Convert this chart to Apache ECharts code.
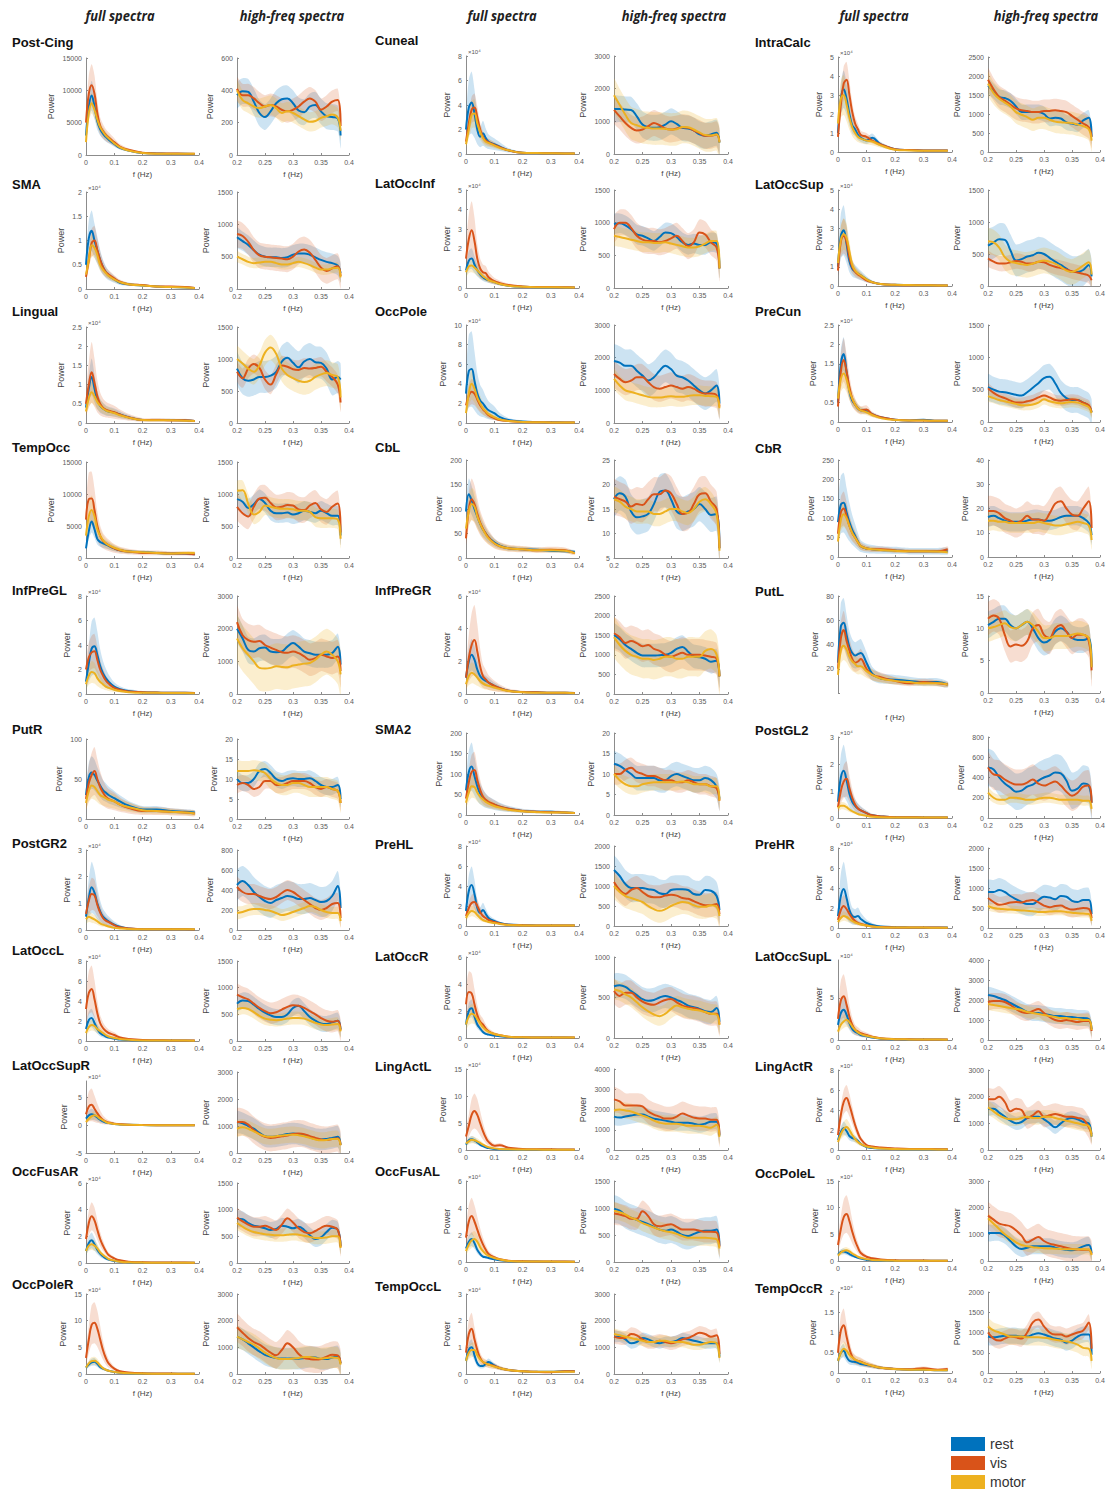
<!DOCTYPE html>
<html><head><meta charset="utf-8">
<script src="https://cdn.jsdelivr.net/npm/echarts@6/dist/echarts.min.js"></script>
<style>html,body{margin:0;padding:0;background:#fff}#c{width:1111px;height:1493px}</style>
</head><body><div id="c"></div>
<script>
// ---------------- DATA ----------------
const regions = ['Post-Cing','SMA','Lingual','TempOcc','InfPreGL','PutR','PostGR2','LatOccL','LatOccSupR','OccFusAR','OccPoleR',
 'Cuneal','LatOccInf','OccPole','CbL','InfPreGR','SMA2','PreHL','LatOccR','LingActL','OccFusAL','TempOccL',
 'IntraCalc','LatOccSup','PreCun','CbR','PutL','PostGL2','PreHR','LatOccSupL','LingActR','OccPoleL','TempOccR'];
const conditions = ['rest','vis','motor'];
const fullFreq = [0,0.01,0.02,0.03,0.04,0.05,0.06,0.07,0.08,0.1,0.12,0.15,0.2,0.25,0.3,0.35,0.385];
const hfFreq = [0.2,0.21,0.22,0.23,0.24,0.25,0.26,0.27,0.28,0.29,0.3,0.31,0.32,0.33,0.34,0.35,0.36,0.37,0.38,0.385];
// full-spectra y axis: [min, max, interval, exponent of the x10^n multiplier]
const fullAxis = [[0,15000,5000,0],[0,2,0.5,4],[0,2.5,0.5,4],[0,15000,5000,0],[0,8,2,4],[0,100,50,0],[0,3,1,4],[0,8,2,4],[-5,8,5,4],[0,6,2,4],[0,15,5,4],
 [0,8,2,4],[0,5,1,4],[0,10,2,4],[0,200,50,0],[0,6,2,4],[0,200,50,0],[0,8,2,4],[0,6,2,4],[0,15,5,4],[0,6,2,4],[0,3,1,4],
 [0,5,1,4],[0,5,1,4],[0,2.5,0.5,4],[0,250,50,0],[0,80,20,0],[0,3,1,4],[0,8,2,4],[0,9.5,5,4],[0,8,2,4],[0,15,5,4],[0,2,0.5,4]];
// high-freq y axis: [min, max, interval]
const hfAxis = [[0,600,200],[0,1500,500],[0,1500,500],[0,1500,500],[0,3000,1000],[0,20,5],[0,800,200],[0,1500,500],[0,3000,1000],[0,1500,500],[0,3000,1000],
 [0,3000,1000],[0,1500,500],[0,3000,1000],[5,25,5],[0,2500,500],[0,20,5],[0,2000,500],[0,1000,500],[0,4000,1000],[0,1500,500],[0,3000,1000],
 [0,2500,500],[0,1500,500],[0,1500,500],[0,40,10],[0,15,5],[0,800,200],[0,2000,500],[0,4000,1000],[0,3000,1000],[0,3000,1000],[0,2000,500]];

const fullRest = [
[3000,7500,9200,7500,5200,4000,3300,2800,2400,1700,1100,700,300,250,200,200,150],
[0.5,1.05,1.2,1.0,0.8,0.6,0.45,0.35,0.28,0.2,0.13,0.1,0.07,0.05,0.04,0.03,0.02],
[0.4,0.9,1.2,0.9,0.6,0.45,0.38,0.33,0.3,0.27,0.22,0.15,0.08,0.08,0.08,0.07,0.05],
[1500,4200,5700,4500,3000,2500,2300,2100,1900,1500,1200,1000,900,800,700,700,600],
[1.0,2.5,3.7,3.9,3.2,2.3,1.7,1.3,1.0,0.6,0.4,0.25,0.15,0.12,0.1,0.1,0.08],
[30,52,58,55,48,42,36,33,30,26,22,17,12,12,10,9,8],
[0.5,1.2,1.6,1.4,1.0,0.7,0.5,0.4,0.32,0.2,0.12,0.06,0.03,0.03,0.03,0.03,0.02],
[1.2,2.1,2.3,1.8,1.2,0.8,0.6,0.45,0.35,0.25,0.15,0.1,0.05,0.05,0.04,0.04,0.03],
[1.2,1.8,2.0,1.8,1.4,1.0,0.7,0.5,0.4,0.25,0.15,0.08,0.04,0.03,0.02,0.02,0.02],
[0.9,1.5,1.7,1.4,1.0,0.7,0.5,0.35,0.25,0.15,0.1,0.05,0.03,0.02,0.02,0.02,0.02],
[1.2,1.8,2.2,2.3,1.9,1.3,1.0,0.8,0.6,0.4,0.25,0.15,0.08,0.05,0.05,0.04,0.04],
[2.0,3.8,4.2,3.3,2.0,1.4,1.7,1.3,1.0,0.8,0.6,0.3,0.1,0.08,0.06,0.05,0.05],
[0.9,1.4,1.5,1.2,0.9,0.7,0.55,0.45,0.4,0.3,0.2,0.12,0.06,0.04,0.04,0.03,0.03],
[3.0,5.3,5.5,4.3,3.0,2.3,2.0,1.6,1.3,1.0,0.6,0.3,0.15,0.1,0.08,0.06,0.05],
[95,130,118,100,85,70,58,50,42,32,25,20,18,17,15,14,13],
[1.0,2.0,2.4,2.1,1.5,1.1,0.9,0.8,0.7,0.5,0.35,0.2,0.12,0.1,0.08,0.08,0.06],
[60,105,118,95,70,52,42,35,30,25,20,15,10,8,8,6,5],
[1.5,3.5,4.1,3.2,1.8,1.3,1.6,1.2,0.8,0.5,0.3,0.15,0.08,0.06,0.05,0.05,0.04],
[1.0,2.0,2.2,1.6,1.0,0.7,0.45,0.3,0.25,0.18,0.12,0.07,0.04,0.03,0.03,0.03,0.02],
[1.0,1.8,2.0,1.8,1.4,1.0,0.7,0.5,0.35,0.2,0.15,0.1,0.08,0.06,0.05,0.05,0.04],
[1.0,1.5,1.7,1.4,0.9,0.6,0.4,0.35,0.3,0.2,0.12,0.06,0.03,0.03,0.02,0.02,0.02],
[0.5,0.9,1.0,0.7,0.4,0.3,0.3,0.38,0.45,0.32,0.22,0.15,0.1,0.08,0.08,0.1,0.1],
[1.0,2.8,3.3,2.8,2.0,1.4,1.2,0.9,0.75,0.6,0.75,0.4,0.15,0.1,0.08,0.08,0.08],
[1.0,2.6,2.9,2.2,1.3,0.9,0.75,0.65,0.55,0.35,0.2,0.1,0.06,0.05,0.04,0.03,0.03],
[0.5,1.5,1.75,1.3,0.8,0.55,0.45,0.35,0.3,0.28,0.2,0.12,0.06,0.04,0.06,0.03,0.03],
[90,135,140,115,90,70,55,40,28,22,20,18,17,15,15,15,15],
[25,55,58,48,38,33,31,32,33,25,16,12,11,10,9,9,7],
[0.6,1.5,1.75,1.4,0.9,0.6,0.45,0.35,0.28,0.18,0.1,0.06,0.03,0.03,0.02,0.02,0.02],
[1.2,3.2,3.9,3.0,1.8,1.2,1.1,1.2,0.9,0.5,0.3,0.15,0.08,0.06,0.05,0.04,0.04],
[1.8,3.2,3.6,3.0,2.0,1.3,1.0,0.8,0.6,0.45,0.3,0.15,0.08,0.06,0.05,0.05,0.04],
[1.0,1.8,2.2,1.9,1.4,1.2,1.1,0.9,0.6,0.3,0.2,0.15,0.1,0.08,0.08,0.06,0.06],
[1.2,1.7,1.8,1.6,1.3,1.0,0.8,0.6,0.45,0.25,0.15,0.1,0.06,0.05,0.04,0.04,0.03],
[0.3,0.5,0.55,0.4,0.3,0.28,0.27,0.25,0.22,0.2,0.17,0.13,0.1,0.08,0.08,0.07,0.07]];

const fullVis = [
[5000,9500,10800,9500,6500,4500,3700,3100,2700,2000,1300,800,350,250,250,200,200],
[0.25,0.6,0.95,1.0,0.8,0.6,0.45,0.35,0.3,0.22,0.15,0.1,0.08,0.05,0.05,0.04,0.02],
[0.5,1.0,1.32,1.05,0.7,0.5,0.4,0.35,0.32,0.28,0.22,0.15,0.08,0.08,0.07,0.07,0.05],
[6000,9200,9300,7500,5000,3500,2700,2300,2000,1500,1200,1000,800,800,700,700,600],
[2.0,3.0,3.4,3.5,2.8,2.0,1.5,1.1,0.85,0.5,0.35,0.2,0.15,0.12,0.1,0.1,0.08],
[25,45,55,60,50,40,33,28,25,22,18,14,10,10,9,8,7],
[0.6,1.1,1.35,1.3,0.95,0.65,0.45,0.35,0.3,0.18,0.1,0.06,0.03,0.03,0.03,0.03,0.02],
[3.2,4.8,5.2,4.2,2.8,1.8,1.3,1.0,0.8,0.6,0.35,0.2,0.1,0.08,0.06,0.05,0.05],
[2.0,3.4,3.7,3.0,2.2,1.5,1.0,0.7,0.5,0.3,0.2,0.1,0.05,0.03,0.03,0.02,0.02],
[1.8,3.0,3.5,3.2,2.5,1.8,1.3,0.9,0.6,0.35,0.2,0.1,0.05,0.04,0.03,0.03,0.02],
[3.0,6.5,9.2,9.6,8.5,6.5,4.5,3.0,2.0,1.0,0.5,0.3,0.15,0.1,0.08,0.06,0.05],
[1.0,2.5,3.6,3.8,3.0,2.0,1.4,1.1,0.95,0.75,0.55,0.3,0.1,0.08,0.06,0.05,0.05],
[1.5,2.5,2.95,2.4,1.5,1.0,0.8,0.75,0.55,0.35,0.25,0.15,0.08,0.05,0.05,0.04,0.03],
[1.8,2.8,3.2,3.0,2.4,1.8,1.4,1.1,0.8,0.5,0.3,0.2,0.1,0.08,0.06,0.05,0.05],
[40,100,120,110,90,72,60,50,42,30,24,20,18,16,17,16,10],
[1.0,2.2,3.0,3.3,2.6,1.7,1.1,0.9,0.7,0.5,0.35,0.2,0.12,0.1,0.08,0.08,0.06],
[40,80,105,110,85,62,45,37,32,26,20,15,10,8,7,6,5],
[1.0,1.8,2.3,2.4,2.0,1.4,1.0,0.8,0.6,0.4,0.25,0.12,0.07,0.06,0.05,0.05,0.04],
[2.5,3.4,3.3,2.5,1.7,1.2,1.0,0.7,0.5,0.3,0.2,0.1,0.05,0.04,0.03,0.03,0.03],
[2.5,4.5,6.5,7.2,6.5,5.0,3.5,2.3,1.5,0.8,0.9,0.4,0.2,0.15,0.12,0.1,0.1],
[1.8,3.0,3.4,3.0,2.4,1.8,1.3,0.9,0.6,0.35,0.2,0.1,0.05,0.04,0.03,0.03,0.02],
[0.8,1.5,1.7,1.3,0.9,0.6,0.45,0.4,0.35,0.3,0.22,0.15,0.1,0.08,0.07,0.1,0.1],
[0.8,2.5,3.6,3.8,3.0,2.1,1.5,1.2,0.9,0.8,0.6,0.4,0.15,0.1,0.08,0.08,0.08],
[0.8,2.3,2.6,2.3,1.5,1.0,0.75,0.6,0.5,0.3,0.2,0.1,0.06,0.04,0.04,0.03,0.03],
[0.4,1.3,1.6,1.3,0.9,0.6,0.45,0.35,0.3,0.32,0.2,0.12,0.06,0.04,0.04,0.03,0.03],
[60,115,125,105,80,62,50,38,28,22,20,20,17,15,15,15,20],
[20,45,52,43,35,28,25,26,28,20,15,13,10,8,9,8,7],
[0.4,1.0,1.35,1.45,1.1,0.75,0.5,0.35,0.28,0.18,0.1,0.06,0.03,0.03,0.02,0.02,0.02],
[0.8,1.8,2.2,1.9,1.4,1.0,0.7,0.5,0.4,0.25,0.15,0.1,0.06,0.05,0.04,0.04,0.03],
[2.5,4.7,5.2,4.2,2.8,1.8,1.2,1.0,0.8,0.6,0.4,0.2,0.1,0.08,0.06,0.05,0.05],
[1.5,3.5,4.8,5.2,4.5,3.5,2.5,1.7,1.1,0.5,0.35,0.25,0.15,0.1,0.1,0.08,0.08],
[3.0,6.0,8.2,8.8,7.5,5.5,3.8,2.5,1.5,0.8,0.5,0.3,0.15,0.1,0.08,0.06,0.05],
[0.5,1.05,1.18,0.9,0.6,0.4,0.33,0.3,0.28,0.22,0.18,0.13,0.1,0.09,0.12,0.08,0.1]];

const fullMotor = [
[2000,6500,8000,7000,5500,4300,3600,3000,2600,1800,1200,700,300,200,200,200,200],
[0.3,0.6,0.9,0.85,0.7,0.5,0.4,0.33,0.27,0.2,0.14,0.1,0.07,0.05,0.04,0.03,0.02],
[0.3,0.65,0.8,0.7,0.55,0.45,0.38,0.33,0.3,0.26,0.2,0.14,0.08,0.07,0.07,0.06,0.05],
[3500,6500,7500,6500,4500,3500,2800,2300,2000,1600,1300,1000,900,800,700,800,800],
[0.8,1.5,1.8,1.7,1.3,1.0,0.8,0.6,0.5,0.35,0.25,0.15,0.1,0.1,0.08,0.08,0.06],
[20,35,42,40,35,30,28,26,24,22,18,15,11,10,9,8,7],
[0.4,0.5,0.45,0.4,0.33,0.25,0.2,0.17,0.13,0.08,0.06,0.04,0.03,0.03,0.03,0.03,0.03],
[0.8,1.4,1.6,1.5,1.2,1.0,0.8,0.6,0.45,0.3,0.2,0.12,0.06,0.05,0.04,0.04,0.03],
[0.6,1.2,1.6,1.8,1.6,1.2,0.9,0.6,0.4,0.25,0.15,0.08,0.04,0.03,0.02,0.02,0.02],
[0.9,1.3,1.4,1.3,1.1,0.8,0.6,0.45,0.3,0.18,0.1,0.05,0.03,0.02,0.02,0.02,0.02],
[1.2,2.0,2.4,2.5,2.2,1.6,1.1,0.8,0.6,0.4,0.25,0.15,0.08,0.06,0.05,0.04,0.04],
[0.8,2.0,3.2,3.3,2.5,1.8,1.3,1.0,0.9,0.7,0.5,0.3,0.1,0.08,0.06,0.05,0.05],
[0.8,1.1,1.15,1.05,0.9,0.75,0.6,0.5,0.4,0.3,0.2,0.12,0.06,0.04,0.04,0.03,0.03],
[1.0,3.0,4.0,3.5,2.6,2.0,1.5,1.2,0.9,0.6,0.35,0.2,0.1,0.08,0.06,0.05,0.05],
[60,95,110,105,85,70,58,48,40,30,24,20,18,16,16,15,10],
[0.6,1.1,1.3,1.2,1.0,0.8,0.65,0.55,0.5,0.4,0.3,0.18,0.1,0.08,0.07,0.07,0.05],
[30,55,70,68,55,45,38,32,28,22,18,13,9,7,6,6,5],
[0.8,1.3,1.5,1.4,1.1,0.8,0.6,0.5,0.4,0.3,0.2,0.1,0.06,0.05,0.05,0.04,0.04],
[1.0,1.6,1.8,1.7,1.4,1.1,0.8,0.6,0.45,0.3,0.2,0.1,0.05,0.04,0.03,0.03,0.03],
[1.2,1.6,1.9,1.8,1.6,1.3,1.0,0.7,0.5,0.3,0.2,0.12,0.1,0.08,0.06,0.05,0.05],
[0.8,1.3,1.6,1.7,1.5,1.1,0.8,0.6,0.45,0.3,0.18,0.08,0.04,0.03,0.03,0.02,0.02],
[0.5,0.8,0.9,0.9,0.7,0.55,0.45,0.4,0.35,0.28,0.22,0.15,0.1,0.08,0.08,0.08,0.08],
[1.5,2.8,3.0,2.5,1.8,1.3,1.0,0.8,0.7,0.6,0.55,0.35,0.12,0.08,0.06,0.06,0.06],
[1.2,2.4,2.7,2.5,1.8,1.1,0.8,0.65,0.55,0.35,0.2,0.1,0.06,0.05,0.04,0.03,0.03],
[0.6,1.1,1.25,1.1,0.8,0.6,0.45,0.35,0.3,0.25,0.18,0.1,0.05,0.04,0.04,0.03,0.03],
[40,95,110,100,80,62,50,38,28,22,20,18,16,15,15,14,12],
[15,35,39,36,30,26,24,22,22,18,15,12,10,9,8,8,7],
[0.35,0.45,0.45,0.4,0.32,0.25,0.2,0.15,0.12,0.08,0.05,0.03,0.02,0.02,0.02,0.02,0.02],
[0.6,1.0,1.2,1.1,0.9,0.7,0.55,0.45,0.35,0.25,0.15,0.08,0.05,0.04,0.04,0.03,0.03],
[1.0,1.8,2.2,2.4,2.1,1.6,1.2,0.9,0.7,0.5,0.35,0.18,0.1,0.07,0.05,0.05,0.04],
[0.8,1.6,2.1,2.3,2.0,1.5,1.1,0.8,0.6,0.35,0.25,0.15,0.1,0.08,0.08,0.06,0.06],
[1.0,1.6,1.9,2.0,1.8,1.4,1.1,0.8,0.6,0.35,0.2,0.12,0.07,0.05,0.04,0.04,0.03],
[0.3,0.5,0.6,0.55,0.45,0.38,0.33,0.3,0.27,0.22,0.18,0.13,0.1,0.08,0.08,0.07,0.07]];

const hfRest = [
[370,395,390,330,260,235,270,320,345,350,320,275,265,300,310,270,240,235,225,120],
[800,740,680,600,530,500,490,490,480,490,530,550,550,530,490,450,420,400,360,250],
[850,700,660,680,720,720,740,800,960,1020,940,870,960,1000,950,940,850,680,720,680],
[920,880,780,840,920,860,740,700,700,710,680,700,740,720,700,740,700,660,660,350],
[2000,1700,1350,1300,1400,1420,1300,1280,1300,1450,1560,1450,1300,1250,1200,1200,1200,1250,1450,900],
[10,9,9,10,12,12.5,11.5,10,9.5,10,10.2,10,10,10.2,9.5,8.5,8,8,8.5,5],
[450,490,450,380,330,290,270,300,320,340,330,310,310,320,300,280,290,340,440,220],
[700,760,750,680,600,530,480,450,450,500,620,660,560,450,380,330,320,350,380,220],
[1150,1100,1000,900,750,620,600,620,660,700,720,700,650,580,520,500,520,560,600,300],
[830,820,750,700,680,650,620,640,700,680,650,680,620,520,450,480,580,660,620,320],
[1400,1300,1150,1000,850,720,650,600,580,580,580,570,600,640,620,560,560,620,660,400],
[1380,1380,1360,1350,1150,900,820,800,820,900,1000,920,800,780,720,600,560,600,650,350],
[980,990,960,900,820,800,760,720,780,850,840,780,700,660,680,660,660,700,680,300],
[1900,1850,1750,1750,1600,1450,1300,1400,1600,1750,1650,1450,1400,1300,1150,1000,900,1000,1150,600],
[17,18.2,17.5,14.5,13.3,13.5,14,16,18.5,18.8,17,14.5,14,14.5,15,16,15,13.8,14,7],
[1500,1400,1250,1150,1050,980,980,980,990,1000,1050,1150,1200,1080,960,940,900,820,850,450],
[12.5,12,11,10,9,9,9,9,8.5,8.5,9.5,10,9.5,9,8.5,8.5,9,8.5,7,4],
[1400,1250,1050,950,950,950,920,900,820,800,900,920,920,900,800,780,900,880,750,400],
[640,650,630,580,530,480,460,470,500,520,500,470,440,400,380,360,330,320,370,200],
[1650,1600,1650,1700,1750,1750,1650,1550,1500,1450,1400,1350,1350,1350,1300,1250,1300,1400,1400,700],
[980,950,870,820,780,740,700,650,600,580,600,560,500,480,520,560,580,580,600,300],
[1400,1400,1300,1150,1200,1350,1300,1200,1150,1200,1200,1250,1350,1300,1250,1200,1150,1150,1150,650],
[1750,1600,1450,1420,1350,1200,1050,1050,1050,1050,1000,880,900,880,780,750,720,830,900,400],
[630,680,730,720,560,400,420,460,480,520,500,440,380,330,270,220,220,250,330,150],
[540,500,470,460,440,420,410,460,530,600,680,700,600,450,370,340,340,300,250,150],
[16.5,17,16,15,14.5,14.5,14.5,15,15.5,15.5,15,15,15.5,16.5,17,17,17,16,14,9],
[10.5,11,11.5,11.5,10.5,10,10.5,11,10,8.5,7.8,8.2,9.5,10,9.5,8.5,8.2,8.2,8.5,4],
[500,480,400,340,300,260,270,310,330,370,400,420,450,440,370,270,290,340,320,150],
[900,900,950,900,800,720,650,600,600,700,780,760,720,800,780,680,650,700,700,350],
[2250,2200,2100,2000,1850,1700,1550,1400,1350,1350,1300,1250,1200,1200,1150,1150,1100,1100,1050,550],
[1550,1550,1400,1250,1100,1000,1050,1200,1250,1250,1150,1000,850,1000,1150,1200,1150,1050,1000,500],
[1050,1050,1050,950,750,550,450,500,550,550,550,550,500,450,420,400,450,550,600,300],
[900,880,900,920,920,920,900,900,950,980,950,900,850,820,750,800,900,950,950,450]];

const hfVis = [
[410,370,370,350,320,300,310,300,280,270,280,300,330,350,330,280,300,330,340,180],
[850,820,730,600,520,500,490,480,470,460,500,580,610,560,450,330,280,320,350,200],
[800,700,850,920,860,680,600,760,900,880,840,830,860,850,860,880,800,720,600,320],
[800,700,650,800,930,940,860,790,800,830,820,760,750,820,860,760,720,800,850,400],
[2200,1800,1650,1600,1620,1500,1420,1350,1280,1260,1300,1250,1150,1050,1100,1200,1150,1100,1150,700],
[8.5,9,8.5,7.5,8,9.5,9.5,8.5,8.5,9,9.5,9.5,9.5,9,8,7.5,8,7.5,7,4],
[430,380,360,360,340,320,310,330,370,400,380,340,300,260,220,200,220,260,270,120],
[870,820,780,700,620,560,520,540,590,640,670,660,620,560,500,430,380,360,380,200],
[1150,1150,1050,850,700,600,560,580,620,650,700,720,700,620,560,500,480,520,550,300],
[850,780,720,680,680,700,660,620,720,840,760,650,580,560,600,660,700,680,620,300],
[1750,1550,1350,1200,1100,950,800,700,900,1150,1000,750,600,560,540,560,650,720,700,400],
[1350,1150,950,800,720,750,850,950,880,780,750,780,820,800,720,640,560,560,600,380],
[900,1000,1000,920,800,740,720,720,700,720,760,800,720,640,700,850,820,700,620,300],
[1500,1350,1250,1300,1400,1400,1250,1100,1050,1100,1150,1100,1050,1100,1050,950,900,900,850,500],
[17.5,17,16.5,15.5,16,15.8,17,18,18,18.8,18.2,16,14,14.2,16,18,18.2,16.5,15,7],
[1550,1450,1300,1350,1300,1220,1250,1150,1100,1000,950,1000,1050,1000,1000,1000,980,950,900,450],
[10,10,11,11.5,10.5,10,9.5,9.5,9,8.5,8.5,8,8,8.5,8,7.5,7.5,7,6.5,3.5],
[1100,900,800,900,950,850,750,720,720,760,780,760,700,680,620,560,520,520,550,300],
[580,520,560,560,500,450,420,410,440,470,480,440,400,380,370,350,320,300,300,170],
[2500,2400,2200,2200,2200,2150,1900,1750,1650,1550,1550,1650,1800,1700,1600,1550,1550,1500,1500,750],
[900,880,850,800,800,940,850,700,660,680,700,650,600,600,600,580,560,560,550,280],
[1400,1350,1350,1500,1450,1300,1200,1200,1250,1200,1150,1200,1300,1350,1450,1550,1500,1400,1450,750],
[1900,1650,1450,1350,1250,1150,1100,1080,1050,1050,1080,1080,1100,1080,1050,950,850,750,650,400],
[430,380,350,350,370,390,380,350,350,380,370,330,300,280,260,230,210,190,160,90],
[520,450,400,370,330,300,300,320,340,380,410,380,340,330,340,350,340,300,260,160],
[19,19,18,16,15,14,15,17,15.5,15.5,15,18,22,23,20,17.5,17,20,23,12],
[11.5,12,11.5,9,7.2,7.5,7.3,8,10,10.5,9,8.5,10,10.5,9.5,8.5,9,9,8,3.5],
[500,430,420,380,350,330,330,350,380,340,320,340,360,320,260,220,250,310,320,150],
[750,650,580,600,640,650,640,680,700,640,560,520,550,560,500,460,480,500,480,250],
[1900,1950,1950,1900,1750,1550,1400,1350,1450,1550,1350,1150,1000,950,1000,950,900,950,950,450],
[1900,1900,2000,1800,1450,1550,1500,1200,1300,1450,1250,1300,1350,1300,1250,1250,1200,1150,850,600],
[1700,1550,1400,1350,1300,1150,950,700,800,900,750,650,600,550,500,450,430,420,420,250],
[1000,850,800,850,900,880,850,1000,1250,1320,1150,1000,950,950,900,950,1000,1050,1250,600]];

const hfMotor = [
[400,340,320,300,290,300,310,290,260,270,260,240,220,205,210,230,240,250,230,150],
[500,460,420,400,410,420,420,400,380,380,400,420,400,370,330,300,300,320,330,180],
[1000,930,850,800,900,1100,1180,1080,850,750,700,660,640,660,720,760,780,750,720,400],
[1050,1060,850,680,720,820,800,780,770,770,760,740,740,720,640,620,620,620,600,300],
[1700,1400,1200,1000,800,780,800,850,830,820,870,900,930,950,1050,1200,1300,1200,1000,600],
[12,12,12,12.2,12,11.5,10,9,8.5,8.5,9,9,8.5,8,8,8,8,7.5,7,4],
[170,180,200,210,210,200,190,170,150,160,180,200,220,240,230,200,180,170,170,90],
[600,620,600,540,470,420,400,390,400,420,430,430,420,380,340,310,300,310,320,180],
[900,950,900,800,700,620,600,620,650,670,680,660,620,560,500,470,480,520,520,280],
[750,680,620,580,560,540,530,520,520,530,540,530,510,490,470,470,480,500,500,280],
[1400,1300,1200,1100,950,800,680,600,560,560,580,600,640,640,600,580,600,620,600,350],
[1800,1500,1200,950,880,820,800,780,780,770,750,760,830,820,750,660,580,570,600,350],
[800,780,760,740,720,700,700,690,690,700,680,660,640,620,620,640,680,720,720,300],
[1350,1150,1000,950,900,850,800,780,780,800,820,800,800,830,850,850,830,820,800,450],
[17,16.5,15.5,15,14.5,14.5,14.5,14,14,14.5,15,15,14.5,14.2,15,16.5,17,16,14,6.5],
[1450,1250,1100,1000,950,900,900,870,900,950,950,900,900,950,950,950,1100,1150,1000,450],
[10,8.5,7.5,7,7,7.5,7.8,8,8,8,8,8,8.2,8,7.5,7.5,7.5,7,7,3.5],
[1000,850,750,700,650,600,500,420,380,420,500,560,600,580,520,480,480,520,480,250],
[600,580,540,500,440,380,330,290,270,300,360,400,380,360,350,340,320,300,290,160],
[1950,2000,1950,1900,1800,1700,1600,1450,1350,1300,1300,1300,1250,1200,1200,1200,1150,1100,1250,650],
[950,920,880,820,780,720,680,640,600,570,550,520,480,450,450,450,450,440,420,250],
[1500,1450,1400,1350,1300,1250,1200,1200,1250,1250,1200,1200,1200,1150,1100,1100,1150,1200,1150,600],
[1800,1550,1400,1300,1200,1050,980,920,850,900,900,850,800,780,770,760,720,680,600,300],
[700,680,600,450,380,360,340,330,350,380,400,380,350,300,240,220,260,320,370,180],
[400,370,340,320,300,280,260,260,270,300,350,320,300,290,300,310,300,270,230,140],
[15,15,14.5,14.5,14,14,14,14,14,14.5,14,13.5,13,13,13.5,14,14.5,14,13,7],
[10,10.2,10.5,10.8,10.2,10,10.5,11,10.5,9.5,8.5,8.5,8.8,8.8,8.8,9,9.2,9,8.5,4],
[250,200,180,180,200,200,190,180,180,190,200,200,190,180,180,180,180,170,170,90],
[550,500,480,470,460,450,440,430,420,400,400,410,420,420,400,380,370,360,350,180],
[1800,1750,1700,1650,1600,1550,1500,1400,1350,1300,1250,1200,1150,1100,1100,1050,1050,1000,1000,500],
[1600,1450,1300,1200,1150,1150,1200,1250,1200,1200,1250,1250,1200,1150,1100,1050,1000,950,900,500],
[1600,1400,1200,1000,850,700,600,550,520,500,480,470,460,450,440,440,440,440,430,220],
[1150,1050,1000,950,900,900,900,880,880,880,870,850,820,800,780,750,700,620,600,300]];

// shaded error band half-widths: full spectra as a fraction of the curve, high-freq in power units  [rest, vis, motor]
const fullBand = [[0.25,0.3,0.2],[0.35,0.3,0.25],[0.4,0.6,0.35],[0.3,0.45,0.3],[0.6,0.4,0.5],[0.35,0.5,0.4],[0.6,0.45,0.4],[0.4,0.45,0.35],[0.5,0.8,0.4],[0.35,0.3,0.3],[0.3,0.4,0.3],
 [0.6,0.3,0.35],[0.35,0.5,0.3],[0.7,0.4,0.4],[0.25,0.35,0.3],[0.4,0.65,0.5],[0.5,0.4,0.4],[0.45,0.35,0.35],[0.3,0.45,0.4],[0.3,0.45,0.35],[0.3,0.4,0.35],[0.3,0.35,0.3],
 [0.3,0.25,0.35],[0.45,0.35,0.3],[0.25,0.35,0.3],[0.55,0.35,0.3],[0.35,0.3,0.3],[0.55,0.45,0.3],[0.7,0.5,0.4],[0.4,0.5,0.35],[0.3,0.25,0.35],[0.3,0.4,0.3],[0.3,0.35,0.3]];
const hfBand = [[80,70,60],[150,200,80],[250,150,200],[150,200,150],[400,500,700],[2,2,2.5],[150,100,60],[150,200,120],[400,500,300],[150,180,120],[400,500,400],
 [400,400,500],[150,200,150],[500,400,300],[3.5,3.5,2.5],[300,400,500],[3,2.5,2],[350,300,300],[150,150,120],[400,600,400],[250,200,150],[200,250,200],
 [200,300,300],[250,120,200],[200,80,80],[4,6,4],[2,2.5,2],[180,150,50],[300,200,100],[400,400,300],[250,400,250],[300,500,200],[200,200,200]];

// ---------------- LAYOUT / STYLE ----------------
const colors = ['#0072BD','#D95319','#EDB120'];
const bandFill = ['rgba(0,114,189,0.2)','rgba(217,83,25,0.2)','rgba(237,177,32,0.22)'];
const groupX = [{full:[86,199],hf:[237,349]},{full:[466,579],hf:[614,728]},{full:[838,952],hf:[988,1100]}];
const rowTop = [[58,192,327,462,596,739,850,961,1072,1183,1294],[56,190,325,460,596,733,846,957,1069,1181,1294],[57,190,325,460,596,737,848,960,1070,1181,1292]];
const rowBot = [[155,289,423,558,694,819,930,1041,1153,1263,1374],[154,288,423,558,694,815,926,1038,1150,1262,1374],[152,286,422,557,693,818,928,1040,1150,1261,1373]];
const titleX = [12,375,755];
const titleY = [[44,186,313,449,592,731,845,952,1067,1173,1286],[42,185,313,449,592,731,846,958,1068,1173,1288],[44,186,313,450,593,732,846,958,1068,1175,1290]];
const headerX = [[120,292],[502,674],[874,1046]];
const fullTopShift = {'LatOccSupR':9};
const noXAxisPanels = ['PutL'];
const axisCol = '#8c8c8c', labCol = '#5a5a5a';
const FONT = "'Liberation Sans', Arial, Helvetica, sans-serif";

function fmt(v){ return String(parseFloat((+v).toFixed(4))); }
function labW(s){ let w=0; for (const ch of s) w += (ch==='.'?1.9:(ch==='-'?2.4:3.9)); return w; }

const grids=[], xAxes=[], yAxes=[], series=[], graphics=[];
let pIdx = 0;

function makeBandRenderer(xs, lo, hi, fill){
  return function(params, api){
    const pts = [];
    for (let i=0;i<xs.length;i++) pts.push(api.coord([xs[i], hi[i]]));
    for (let i=xs.length-1;i>=0;i--) pts.push(api.coord([xs[i], lo[i]]));
    const cs = params.coordSys;
    return {type:'group', children:[{type:'polygon', shape:{points:pts, smooth:0.25}, style:{fill:fill, stroke:null}, silent:true}],
      clipPath:{type:'rect', shape:{x:cs.x, y:cs.y, width:cs.width, height:cs.height}}};
  };
}

function addPanel(ri, kind){
  const g = Math.floor(ri/11), r = ri%11, name = regions[ri];
  const xr = kind==='full' ? groupX[g].full : groupX[g].hf;
  let top = rowTop[g][r];
  if (kind==='full' && fullTopShift[name]) top += fullTopShift[name];
  const bot = rowBot[g][r];
  grids.push({left:xr[0], top:top, width:xr[1]-xr[0], height:bot-top, containLabel:false});
  const ax = kind==='full' ? fullAxis[ri] : hfAxis[ri];
  const [ymin,ymax,yint] = ax;
  let maxW = 0;
  for (let v=ymin; v<=ymax+1e-9; v+=yint) maxW = Math.max(maxW, labW(fmt(v)));
  const hideX = kind==='full' && noXAxisPanels.includes(name);
  const aligned = Math.abs(ymax/yint - Math.round(ymax/yint))<1e-6;
  xAxes.push({gridIndex:pIdx, type:'value', min:kind==='full'?0:0.2, max:0.4, interval:kind==='full'?0.1:0.05,
    axisLine:{show:!hideX, onZero:false, lineStyle:{color:axisCol,width:1}},
    axisTick:{show:!hideX, inside:true, length:2, lineStyle:{color:axisCol}},
    axisLabel:{show:!hideX, fontSize:7, color:labCol, margin:4, fontFamily:FONT, formatter:fmt},
    splitLine:{show:false},
    name:'f (Hz)', nameLocation:'middle', nameGap:hideX?20:15, nameTextStyle:{fontSize:8, color:'#444', fontFamily:FONT}});
  yAxes.push({gridIndex:pIdx, type:'value', min:ymin, max:ymax, interval:yint,
    axisLine:{show:true, onZero:false, lineStyle:{color:axisCol,width:1}},
    axisTick:{show:true, inside:true, length:2, lineStyle:{color:axisCol}},
    axisLabel:{fontSize:7, color:labCol, margin:4, fontFamily:FONT, showMaxLabel:aligned,
      formatter:(v)=> (hideX && v===0) ? '' : fmt(v)},
    splitLine:{show:false},
    name:'Power', nameLocation:'middle', nameRotate:90, nameGap:maxW+11, nameTextStyle:{fontSize:9, color:'#444', fontFamily:FONT}});
  const xs = kind==='full' ? fullFreq : hfFreq;
  const sets = kind==='full' ? [fullRest[ri],fullVis[ri],fullMotor[ri]] : [hfRest[ri],hfVis[ri],hfMotor[ri]];
  const bands = kind==='full' ? fullBand[ri] : hfBand[ri];
  sets.forEach((ys,c)=>{
    const lo = ys.map(y=> kind==='full' ? y*(1-bands[c]) : y-bands[c]);
    const hi = ys.map(y=> kind==='full' ? y*(1+bands[c]) : y+bands[c]);
    series.push({type:'custom', xAxisIndex:pIdx, yAxisIndex:pIdx, silent:true, z:1, animation:false,
      renderItem: makeBandRenderer(xs, lo, hi, bandFill[c]), data:[[xs[0], ys[0]]]});
  });
  sets.forEach((ys,c)=>{
    series.push({type:'line', name:conditions[c], xAxisIndex:pIdx, yAxisIndex:pIdx, smooth:0.4, symbol:'none',
      lineStyle:{width:2, color:colors[c]}, itemStyle:{color:colors[c]}, data: xs.map((x,i)=>[x, ys[i]]), z:3, animation:false});
  });
  if (kind==='full' && fullAxis[ri][3]) {
    graphics.push({type:'text', left:xr[0]+2, top:top-7, silent:true,
      style:{text:'×10⁴', font:'6px '+FONT, fill:'#555'}});
  }
  pIdx++;
}

for (let ri=0; ri<regions.length; ri++){ addPanel(ri,'full'); addPanel(ri,'hf'); }

regions.forEach((nm,ri)=>{
  const g = Math.floor(ri/11), r = ri%11;
  graphics.push({type:'text', left:titleX[g], top:titleY[g][r]-8, silent:true,
    style:{text:nm, font:'bold 13px '+FONT, fill:'#111'}});
});
const HFONT = "italic bold 15px 'Liberation Sans Narrow', 'Open Sans', Arial, sans-serif";
headerX.forEach(([a,b])=>{
  graphics.push({type:'text', x:a, y:15, scaleX:0.86, silent:true,
    style:{text:'full spectra', font:HFONT, fill:'#222', textAlign:'center', textVerticalAlign:'middle', verticalAlign:'middle'}});
  graphics.push({type:'text', x:b, y:15, scaleX:0.86, silent:true,
    style:{text:'high-freq spectra', font:HFONT, fill:'#222', textAlign:'center', textVerticalAlign:'middle', verticalAlign:'middle'}});
});

const option = {
  backgroundColor:'#ffffff',
  animation:false,
  grid:grids, xAxis:xAxes, yAxis:yAxes, series:series,
  legend:{data:conditions, orient:'vertical', left:951, top:1437, padding:0, itemWidth:34, itemHeight:14, itemGap:5, icon:'rect',
    textStyle:{fontSize:14, color:'#333', fontFamily:FONT}, selectedMode:false},
  graphic:graphics
};
const chart = echarts.init(document.getElementById('c'), null, {renderer:'svg', width:1111, height:1493});
chart.setOption(option);
</script></body></html>
